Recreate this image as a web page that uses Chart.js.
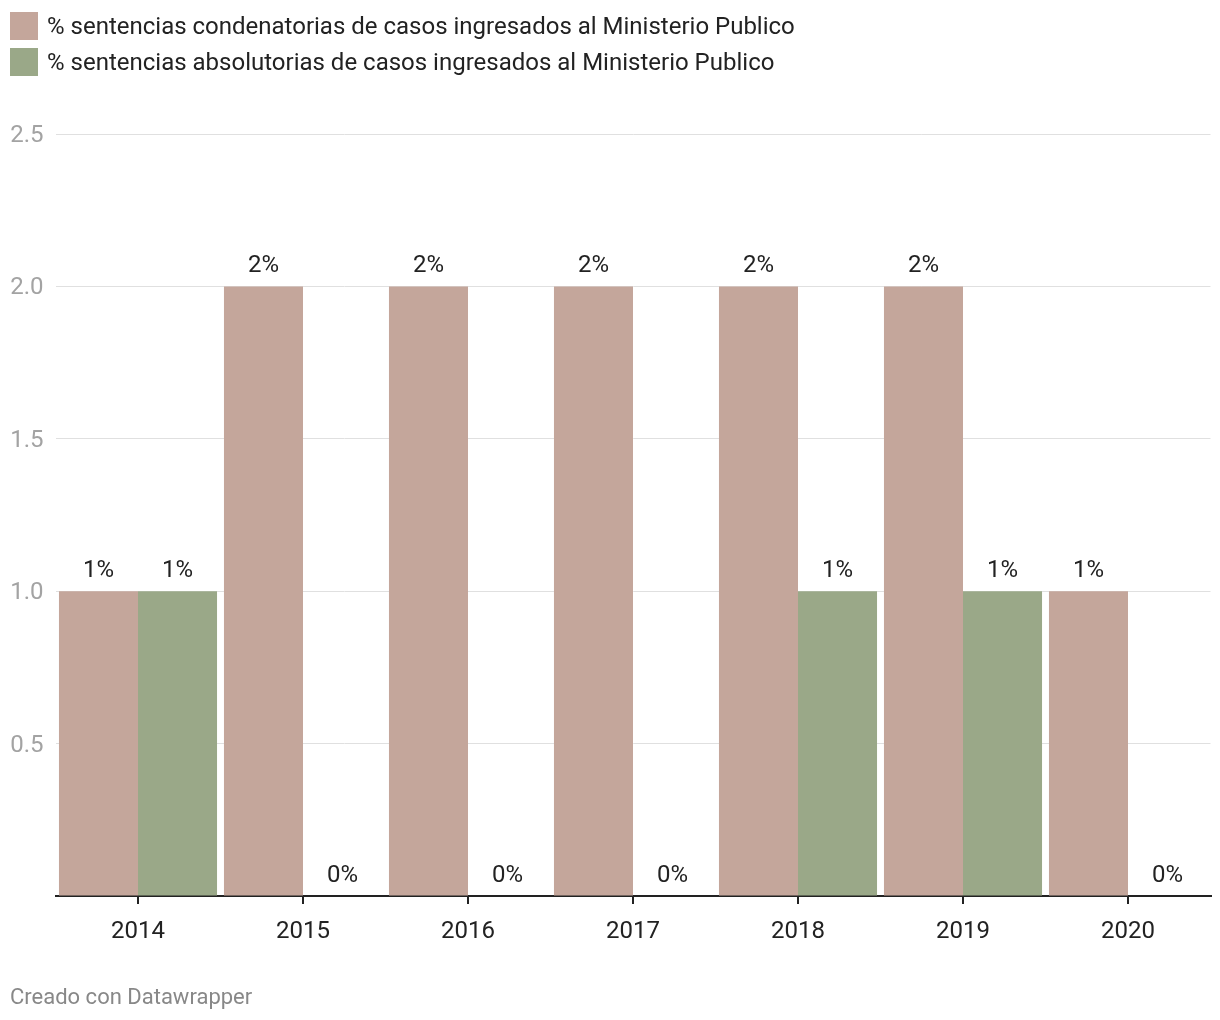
<!DOCTYPE html>
<html>
<head>
<meta charset="utf-8">
<script src="https://cdn.jsdelivr.net/npm/chart.js@4.4.0/dist/chart.umd.min.js"></script>
<style>
  html, body { margin: 0; padding: 0; background: #fff; }
  body { width: 1220px; height: 1020px; position: relative; overflow: hidden; font-family: Roboto, "Noto Sans", sans-serif; }
  #wrap { position: absolute; left: 0; top: 0; width: 1220px; height: 1020px; }
  .legend { position: absolute; left: 10px; top: 12px; z-index: 2; }
  .item { display: flex; align-items: center; height: 28px; margin-bottom: 8px; font-size: 24px; color: #222; white-space: nowrap; }
  .sw { width: 28px; height: 28px; margin-right: 9px; flex: none; }
  .footer { position: absolute; left: 10px; top: 983px; font-size: 22px; line-height: 28px; color: #888; z-index: 2; }
</style>
</head>
<body>
<div id="wrap"><canvas id="c" width="1220" height="1020"></canvas></div>
<div class="legend" id="legend"></div>
<div class="footer">Creado con Datawrapper</div>
<script>
const categories = ['2014', '2015', '2016', '2017', '2018', '2019', '2020'];
const condenatorias = [1, 2, 2, 2, 2, 2, 1];
const absolutorias = [1, 0, 0, 0, 1, 1, 0];
const seriesNames = [
  '% sentencias condenatorias de casos ingresados al Ministerio Publico',
  '% sentencias absolutorias de casos ingresados al Ministerio Publico'
];
const seriesColors = ['#c4a69b', '#9aa888'];
const yTicks = [0, 0.5, 1.0, 1.5, 2.0, 2.5];

// HTML legend
const leg = document.getElementById('legend');
seriesNames.forEach((n, i) => {
  const d = document.createElement('div');
  d.className = 'item';
  d.innerHTML = '<span class="sw" style="background:' + seriesColors[i] + '"></span><span></span>';
  d.lastChild.textContent = n;
  leg.appendChild(d);
});

const valueLabels = {
  id: 'valueLabels',
  afterDatasetsDraw(chart) {
    const ctx = chart.ctx;
    ctx.save();
    ctx.font = '24px Roboto, "Noto Sans", sans-serif';
    ctx.fillStyle = '#222';
    ctx.textAlign = 'center';
    ctx.textBaseline = 'middle';
    chart.data.datasets.forEach((ds, di) => {
      const meta = chart.getDatasetMeta(di);
      meta.data.forEach((bar, i) => {
        ctx.fillText(ds.data[i] + '%', bar.x, bar.y - 20);
      });
    });
    ctx.restore();
  }
};

new Chart(document.getElementById('c'), {
  type: 'bar',
  data: {
    labels: categories,
    datasets: [
      { label: seriesNames[0], data: condenatorias, backgroundColor: seriesColors[0], borderWidth: 0 },
      { label: seriesNames[1], data: absolutorias, backgroundColor: seriesColors[1], borderWidth: 0 }
    ]
  },
  options: {
    responsive: false,
    devicePixelRatio: 1,
    animation: false,
    layout: { padding: { top: 134, left: 10, right: 9.5, bottom: 0 } },
    datasets: { bar: { barPercentage: 1.0, categoryPercentage: 0.958 } },
    plugins: { legend: { display: false }, tooltip: { enabled: false } },
    scales: {
      x: {
        grid: { display: true, offset: false, drawOnChartArea: false, drawTicks: true, tickLength: 8, color: '#222', lineWidth: 2 },
        border: { display: true, color: '#222', width: 2 },
        ticks: { color: '#222', font: { size: 24, family: 'Roboto' }, padding: 14, maxRotation: 0 },
        afterFit(s) { s.height = 124; }
      },
      y: {
        min: 0, max: 2.5,
        afterBuildTicks(s) { s.ticks = yTicks.map(v => ({ value: v })); },
        grid: { color: '#e0e0e0', lineWidth: 1, drawTicks: false },
        border: { display: false },
        ticks: {
          color: '#a3a3a3', font: { size: 24, family: 'Roboto' }, padding: 12, labelOffset: 2,
          callback: v => v === 0 ? '' : v.toFixed(1)
        },
        afterFit(s) { s.width = 45.5; }
      }
    }
  },
  plugins: [valueLabels]
});
</script>
</body>
</html>
